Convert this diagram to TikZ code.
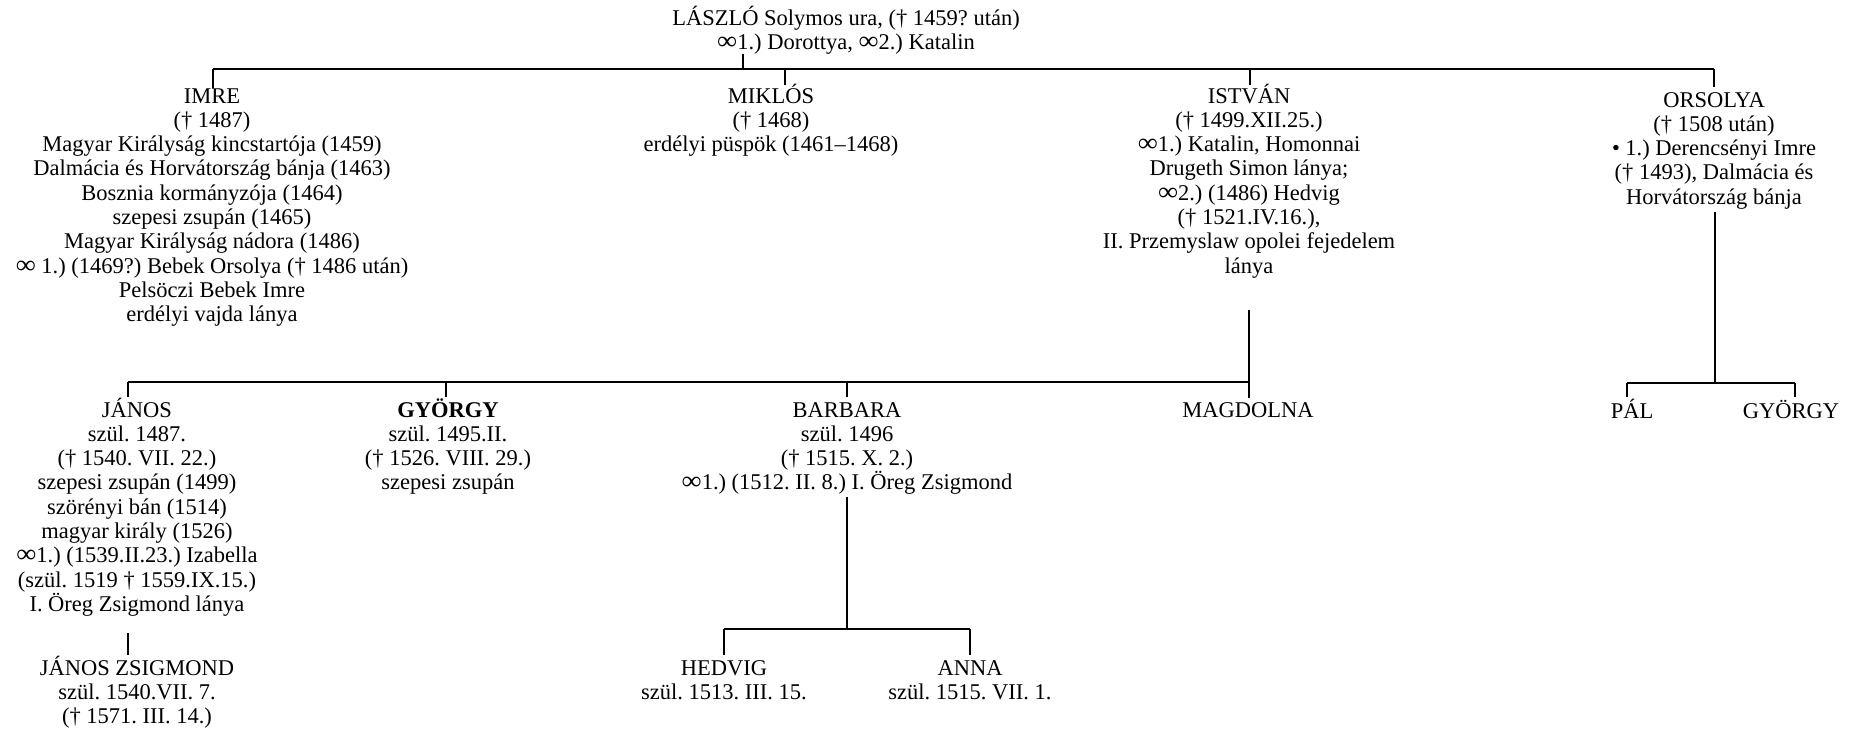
\documentclass[tikz,border=0pt]{standalone}
\usepackage{fontspec}
\usepackage{graphicx}
\setmainfont{Liberation Serif}
\usetikzlibrary{calc}
\newcommand{\myfl}{\rule{0pt}{22pt}}
\newcommand{\myinf}{\scalebox{1.25}[1.15]{∞}}
\newcommand{\myfont}{\fontsize{22.5}{24.3}\selectfont\lineskiplimit=-100pt\relax\frenchspacing}
\begin{document}
\begin{tikzpicture}[x=1pt,y=-1pt,
  person/.style={align=center, anchor=north, inner sep=0pt, outer sep=0pt, font=\myfont},
  conn/.style={line width=1.7pt}]
\useasboundingbox (0,0) rectangle (1865,734);

% ---- persons ----
\node[person] (laszlo) at (846,3) {\myfl LÁSZLÓ Solymos ura, († 1459? után)\\\myinf1.) Dorottya, \myinf2.) Katalin};

\node[person] (imre) at (212,81) {\myfl IMRE\\(† 1487)\\Magyar Királyság kincstartója (1459)\\Dalmácia és Horvátország bánja (1463)\\Bosznia kormányzója (1464)\\szepesi zsupán (1465)\\Magyar Királyság nádora (1486)\\\myinf\ 1.) (1469?) Bebek Orsolya († 1486 után)\\Pelsöczi Bebek Imre\\erdélyi vajda lánya};

\node[person] (miklos) at (771,81) {\myfl MIKLÓS\\(† 1468)\\erdélyi püspök (1461--1468)};

\node[person] (istvan) at (1249,81) {\myfl ISTVÁN\\(† 1499.XII.25.)\\\myinf1.) Katalin, Homonnai\\Drugeth Simon lánya;\\\myinf2.) (1486) Hedvig\\(† 1521.IV.16.),\\II. Przemyslaw opolei fejedelem\\lánya};

\node[person] (orsolya) at (1714,85) {\myfl ORSOLYA\\(† 1508 után)\\• 1.) Derencsényi Imre\\(† 1493), Dalmácia és\\Horvátország bánja};

\node[person] (janos) at (137,395) {\myfl JÁNOS\\szül. 1487.\\(† 1540. VII. 22.)\\szepesi zsupán (1499)\\szörényi bán (1514)\\magyar király (1526)\\\myinf1.) (1539.II.23.) Izabella\\(szül. 1519 † 1559.IX.15.)\\I. Öreg Zsigmond lánya};

\node[person] (gyorgyA) at (448,395) {\myfl\textbf{GYÖRGY}\\szül. 1495.II.\\(† 1526. VIII. 29.)\\szepesi zsupán};

\node[person] (barbara) at (847,395) {\myfl BARBARA\\szül. 1496\\(† 1515. X. 2.)\\\myinf1.) (1512. II. 8.) I. Öreg Zsigmond};

\node[person] (magdolna) at (1248,395) {\myfl MAGDOLNA};
\node[person] (pal) at (1632,396) {\myfl PÁL};
\node[person] (gyorgyB) at (1791,396) {\myfl GYÖRGY};

\node[person] (janoszs) at (137,653) {\myfl JÁNOS ZSIGMOND\\szül. 1540.VII. 7.\\(† 1571. III. 14.)};
\node[person] (hedvig) at (724,653) {\myfl HEDVIG\\szül. 1513. III. 15.};
\node[person] (anna) at (970,653) {\myfl ANNA\\szül. 1515. VII. 1.};

% ---- junction points ----
\coordinate (tL) at (743,69);
\coordinate (tA) at (213,69);
\coordinate (tM) at (785,69);
\coordinate (tI) at (1250,69);
\coordinate (tO) at (1714,69);

\coordinate (iD) at (1249,310);
\coordinate (cJ) at (128,382);
\coordinate (cG) at (446,382);
\coordinate (cB) at (847,382);
\coordinate (cI) at (1249,382);

\coordinate (oB) at (1715,383);
\coordinate (oP) at (1627,383);
\coordinate (oG) at (1795,383);

\coordinate (bB) at (847,629);
\coordinate (bH) at (724,629);
\coordinate (bA) at (970,629);

\coordinate (zT) at (128,633);

% ---- connectors ----
\draw[conn] (tA) -- (tO);
\draw[conn] (tL |- laszlo.south) -- (tL);
\draw[conn] (tA) -- ($(tA |- imre.north)+(0,7)$);
\draw[conn] (tM) -- ($(tM |- miklos.north)+(0,4)$);
\draw[conn] (tI) -- ($(tI |- istvan.north)+(0,4)$);
\draw[conn] (tO) -- ($(tO |- orsolya.north)+(0,2)$);

\draw[conn] (iD) -- ($(iD |- magdolna.north)+(0,3)$);
\draw[conn] (cJ) -- (cI);
\draw[conn] (cJ) -- ($(cJ |- janos.north)+(0,2)$);
\draw[conn] (cG) -- ($(cG |- gyorgyA.north)+(0,2)$);
\draw[conn] (cB) -- ($(cB |- barbara.north)+(0,2)$);

\draw[conn] ($(orsolya.south -| oB)+(0,3)$) -- (oB);
\draw[conn] (oP) -- (oG);
\draw[conn] (oP) -- ($(oP |- pal.north)+(0,1)$);
\draw[conn] (oG) -- ($(oG |- gyorgyB.north)+(0,1)$);

\draw[conn] ($(barbara.south)+(0,2)$) -- (bB);
\draw[conn] (bH) -- (bA);
\draw[conn] (bH) -- ($(bH |- hedvig.north)+(0,2)$);
\draw[conn] (bA) -- ($(bA |- anna.north)+(0,2)$);

\draw[conn] (zT) -- ($(zT |- janoszs.north)+(0,2)$);
\end{tikzpicture}
\end{document}
